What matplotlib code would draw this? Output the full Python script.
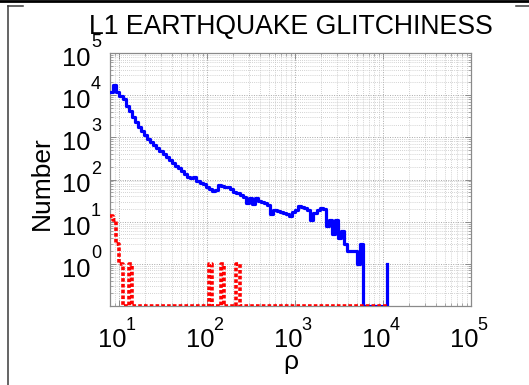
import numpy as np
import matplotlib
matplotlib.use("Agg")
import matplotlib.pyplot as plt
from matplotlib.lines import Line2D
from matplotlib.ticker import LogLocator, NullFormatter, FixedLocator
from matplotlib.transforms import blended_transform_factory, ScaledTranslation

plt.rcParams['font.family'] = ['Liberation Sans', 'DejaVu Sans']

# Log-spaced histogram bins in rho
rho_log_start = 0.9
rho_log_stop = 4.05
n_bins = 91
rho = np.logspace(rho_log_start, rho_log_stop, n_bins)

# Glitch counts per bin, all triggers
counts_all = [
    12000, 17400, 12000, 9500, 8000, 5500, 4100, 3100, 2300, 1800,
    1420, 1150, 930, 790, 670, 560, 470, 400, 335, 285,
    242, 212, 185, 158, 135, 115, 108, 116, 92, 84,
    78, 66, 58, 52, 55, 74, 70, 68, 68, 58,
    50, 47, 42, 38, 27, 37, 26, 37, 31, 30,
    28, 25, 15, 19, 18, 17, 16, 15, 14, 17,
    19, 23, 22, 21, 19, 11, 16, 19, 21, 20,
    8, 11, 5, 11, 4, 6, 3, 2, 2, 2,
    1, 3, 0, 0, 0, 0, 0, 0, 0, 0,
    1,
]

# Glitch counts per bin during earthquakes
counts_quake = [
    14, 11, 3, 1, 0, 0, 1, 0, 0, 0,
    0, 0, 0, 0, 0, 0, 0, 0, 0, 0,
    0, 0, 0, 0, 0, 0, 0, 0, 0, 0,
    0, 0, 1, 0, 0, 0, 1, 0, 0, 0,
    0, 1, 0, 0, 0, 0, 0, 0, 0, 0,
    0, 0, 0, 0, 0, 0, 0, 0, 0, 0,
    0, 0, 0, 0, 0, 0, 0, 0, 0, 0,
    0, 0, 0, 0, 0, 0, 0, 0, 0, 0,
    0, 0, 0, 0, 0, 0, 0, 0, 0, 0,
    0,
]

x_limits = (7.9, 1e5)
y_limits = (0.1, 1e5)
x_tick_values = [1e1, 1e2, 1e3, 1e4, 1e5]
y_tick_values = [1e0, 1e1, 1e2, 1e3, 1e4, 1e5]

W, H = 529, 385
fig = plt.figure(figsize=(W / 100, H / 100), dpi=100)

# window frame
fig.add_artist(Line2D([0, 1], [1 - 1.3 / H, 1 - 1.3 / H], color='black', lw=2.0))
fig.add_artist(Line2D([7.5 / W, 23 / W], [1 - 6 / H, 1 - 6 / H], color='#3a3a3a', lw=1.1))
fig.add_artist(Line2D([516 / W, 1], [1 - 6 / H, 1 - 6 / H], color='#3a3a3a', lw=1.1))
fig.add_artist(Line2D([7.5 / W, 7.5 / W], [0, 1 - 6 / H], color='#3a3a3a', lw=1.1))

ax = fig.add_axes([110 / W, 1 - 306 / H, 361 / W, 253 / H])
ax.set_xscale('log')
ax.set_yscale('log')

floor = y_limits[0]
y_all = np.where(np.array(counts_all) > 0, counts_all, floor)
y_quake = np.where(np.array(counts_quake) > 0, counts_quake, floor)

ax.step(rho, y_all, where='post', color=(0, 0, 1), lw=2.3, zorder=3)
ax.step(rho, y_quake, where='post', color=(1, 0, 0), lw=2.6,
        linestyle=(0, (1.0, 0.6)), zorder=4)

ax.set_xlim(*x_limits)
ax.set_ylim(*y_limits)

ax.xaxis.set_major_locator(FixedLocator(x_tick_values))
ax.yaxis.set_major_locator(FixedLocator(y_tick_values))
ax.xaxis.set_minor_locator(LogLocator(base=10, subs=np.arange(2, 10), numticks=20))
ax.yaxis.set_minor_locator(LogLocator(base=10, subs=np.arange(2, 10), numticks=20))
ax.xaxis.set_minor_formatter(NullFormatter())
ax.yaxis.set_minor_formatter(NullFormatter())

ax.grid(True, which='major', color='#a8a8a8', linestyle=(0, (1, 1.5)), lw=0.7)
ax.grid(True, which='minor', color='#c4c4c4', linestyle=(0, (1, 1.5)), lw=0.6)
ax.set_axisbelow(True)

for s in ax.spines.values():
    s.set_color('#8a8a8a')
    s.set_linewidth(0.9)

ax.tick_params(which='major', direction='in', length=4, width=0.7, color='#8a8a8a',
               top=True, right=True, labelbottom=False, labelleft=False)
ax.tick_params(which='minor', direction='in', length=2, width=0.5, color='#8a8a8a',
               top=True, right=True)


def px(dx, dy):
    return ScaledTranslation(dx / 100, dy / 100, fig.dpi_scale_trans)


# decade tick labels written as 10 with a raised exponent
base_size = 18.4
exp_size = 13
xt = blended_transform_factory(ax.transData, ax.transAxes)
for v in x_tick_values:
    e = int(round(np.log10(v)))
    ax.text(v, 0, '10', transform=xt + px(7, -41), ha='right', va='baseline',
            fontsize=base_size, clip_on=False)
    ax.text(v, 0, str(e), transform=xt + px(6.5, -24), ha='left', va='baseline',
            fontsize=exp_size, clip_on=False)

yt = blended_transform_factory(ax.transAxes, ax.transData)
for v in y_tick_values:
    e = int(round(np.log10(v)))
    ax.text(0, v, '10', transform=yt + px(-19, -13), ha='right', va='baseline',
            fontsize=base_size, clip_on=False)
    ax.text(0, v, str(e), transform=yt + px(-19, 6), ha='left', va='baseline',
            fontsize=exp_size, clip_on=False)

ax.set_title('L1 EARTHQUAKE GLITCHINESS', fontsize=19.2, pad=14)
fig.text(42 / W, 1 - 183 / H, 'Number', rotation=90, ha='center', va='center', fontsize=19)
fig.text(290.5 / W, 1 - 369 / H, 'ρ', ha='center', va='baseline', fontsize=19)

fig.savefig('out.png', dpi=100)
